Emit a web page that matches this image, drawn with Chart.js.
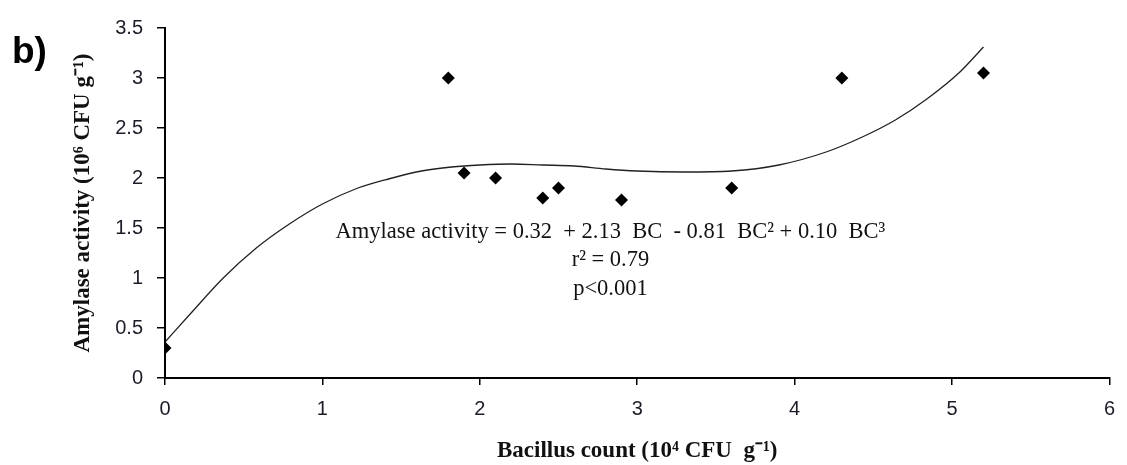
<!DOCTYPE html>
<html>
<head>
<meta charset="utf-8">
<script src="https://cdn.jsdelivr.net/npm/chart.js@4/dist/chart.umd.min.js"></script>
<style>
  html, body { margin: 0; padding: 0; background: #fff; }
  #wrap { position: relative; width: 1127px; height: 465px; }
</style>
</head>
<body>
<div id="wrap"><canvas id="chart" width="1127" height="465"></canvas></div>
<script>
// Measured samples (Bacillus count vs amylase activity)
const countX = [0, 1.8, 1.9, 2.1, 2.4, 2.5, 2.9, 3.6, 4.3, 5.2];
const activityY = [0.3, 3.0, 2.05, 2.0, 1.8, 1.9, 1.78, 1.9, 3.0, 3.05];

// Fitted curve
const fitX = [0, 0.16, 0.37, 0.58, 0.79, 1.0, 1.21, 1.42, 1.63, 1.82, 2.0, 2.2, 2.4, 2.6, 2.8, 3.0, 3.3, 3.6, 3.9, 4.2, 4.43, 4.64, 4.84, 5.05, 5.2];
const fitY = [0.36, 0.64, 1.0, 1.30, 1.54, 1.74, 1.89, 1.99, 2.07, 2.11, 2.13, 2.14, 2.13, 2.12, 2.09, 2.07, 2.06, 2.07, 2.13, 2.26, 2.41, 2.58, 2.79, 3.06, 3.31];

// Text printed inside the plot
const noteLines = [
  'Amylase activity = 0.32  + 2.13  BC  - 0.81  BC\u00B2 + 0.10  BC\u00B3',
  'r\u00B2 = 0.79',
  'p<0.001'
];
const panelLabel = 'b)';

// draws the panel letter and the regression text
const notesPlugin = {
  id: 'notes',
  afterDraw(chart) {
    const ctx = chart.ctx;
    const x = chart.scales.x, y = chart.scales.y;
    ctx.save();
    ctx.fillStyle = '#111';
    ctx.textAlign = 'center';
    ctx.textBaseline = 'middle';
    ctx.font = '22.5px "Liberation Serif", "Times New Roman", serif';
    const cx = x.getPixelForValue(2.83);
    const rows = [1.46, 1.18, 0.89];
    noteLines.forEach(function(t, i) {
      ctx.fillText(t, cx, y.getPixelForValue(rows[i]));
    });
    ctx.font = 'bold 37px "Liberation Sans", Arial, sans-serif';
    ctx.textAlign = 'left';
    ctx.textBaseline = 'alphabetic';
    ctx.fillStyle = '#000';
    ctx.fillText(panelLabel, 12, 63);
    ctx.restore();
  }
};

const tickFont = { family: '"Liberation Sans", Arial, sans-serif', size: 20 };
const titleFont = { family: '"Liberation Serif", "Times New Roman", serif', size: 23, weight: 'bold' };
const plainNum = v => String(+v.toFixed(2));

new Chart(document.getElementById('chart'), {
  type: 'scatter',
  data: {
    datasets: [
      {
        label: 'fit',
        data: fitX.map((v, i) => ({ x: v, y: fitY[i] })),
        showLine: true,
        borderColor: '#222',
        borderWidth: 1.3,
        pointRadius: 0,
        tension: 0.4,
        cubicInterpolationMode: 'monotone'
      },
      {
        label: 'samples',
        data: countX.map((v, i) => ({ x: v, y: activityY[i] })),
        pointStyle: 'rectRot',
        pointRadius: 6.5,
        backgroundColor: '#000',
        borderColor: '#000',
        borderWidth: 0
      }
    ]
  },
  options: {
    responsive: false,
    animation: false,
    layout: { padding: { left: 0, top: 28, right: 10, bottom: 0 } },
    plugins: {
      legend: { display: false },
      tooltip: { enabled: false }
    },
    scales: {
      x: {
        type: 'linear',
        min: 0,
        max: 6,
        ticks: { stepSize: 1, font: tickFont, color: '#1c1c28', padding: 12, callback: plainNum },
        grid: { display: true, drawOnChartArea: false, drawTicks: true, tickLength: 7, color: '#000', lineWidth: 1.5 },
        border: { display: true, color: '#000', width: 2 },
        title: {
          display: true,
          text: 'Bacillus count (10\u2074 CFU  g\u207B\u00B9)',
          font: titleFont,
          color: '#111',
          padding: { top: 0, bottom: 0 }
        },
        afterFit(scale) { scale.height = 87; }
      },
      y: {
        type: 'linear',
        min: 0,
        max: 3.5,
        ticks: { stepSize: 0.5, font: tickFont, color: '#1c1c28', padding: 14, callback: plainNum },
        grid: { display: true, drawOnChartArea: false, drawTicks: true, tickLength: 8, color: '#000', lineWidth: 1.5 },
        border: { display: true, color: '#000', width: 2 },
        title: {
          display: true,
          text: 'Amylase activity (10\u2076 CFU g\u207B\u00B9)',
          font: titleFont,
          color: '#111',
          padding: { top: 69, bottom: 0 }
        },
        afterFit(scale) { scale.width = 165; }
      }
    }
  },
  plugins: [notesPlugin]
});
</script>
</body>
</html>
